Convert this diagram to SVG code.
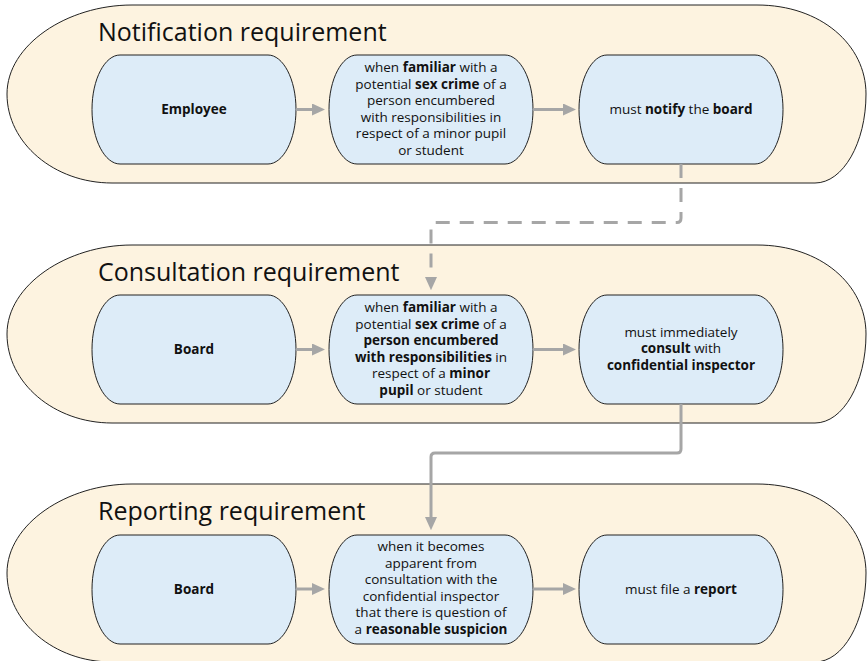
<svg xmlns="http://www.w3.org/2000/svg" width="868" height="661" viewBox="0 0 868 661">
<style>
.cont{fill:#fdf3e0;stroke:#222;stroke-width:1}
.node{fill:#ddecf8;stroke:#222;stroke-width:1}
.title{font-family:"Open Sans","Noto Sans",sans-serif;font-size:25px;fill:#111}
.t{font-family:"Open Sans","Noto Sans",sans-serif;font-size:13.5px;fill:#111;text-anchor:middle}
.b{font-weight:bold}
.conn{fill:none;stroke:#a6a6a6;stroke-width:3;stroke-linejoin:round}
.dash{stroke-dasharray:14 10}
</style>
<defs>
<marker id="ah" markerWidth="4.4" markerHeight="4" refX="0" refY="2" orient="auto" markerUnits="strokeWidth">
<path d="M0,0 L4.4,2 L0,4 Z" fill="#a6a6a6"/>
</marker>
<path id="contShape" d="M125,0 L750,0 C814,0 859,40 859,89 C859,138 836,178 808,178 L105,178 C47,178 0,138 0,89 C0,40 60,0 125,0 Z"/>
<path id="nodeShape" d="M28,0 L176,0 C191,0 204,24 204,54.5 C204,85 191,109 176,109 L28,109 C13,109 0,85 0,54.5 C0,24 13,0 28,0 Z"/>
</defs>

<g id="group-notification">
<use href="#contShape" class="cont" x="7" y="5"/>
<text class="title" x="98" y="41">Notification requirement</text>
</g>
<g id="group-consultation">
<use href="#contShape" class="cont" x="7" y="245"/>
<text class="title" x="98" y="281">Consultation requirement</text>
</g>
<g id="group-reporting">
<use href="#contShape" class="cont" x="7" y="484"/>
<text class="title" x="98" y="520">Reporting requirement</text>
</g>

<g id="n1-employee">
<use href="#nodeShape" class="node" x="92" y="55"/>
<text class="t" x="194" y="114"><tspan class="b">Employee</tspan></text>
</g>
<g id="n1-when">
<use href="#nodeShape" class="node" x="329" y="55"/>
<text class="t" x="431" y="72">when <tspan class="b">familiar</tspan> with a</text>
<text class="t" x="431" y="88.6">potential <tspan class="b">sex crime</tspan> of a</text>
<text class="t" x="431" y="105.2">person encumbered</text>
<text class="t" x="431" y="121.8">with responsibilities in</text>
<text class="t" x="431" y="138.4">respect of a minor pupil</text>
<text class="t" x="431" y="155">or student</text>
</g>
<g id="n1-notify">
<use href="#nodeShape" class="node" x="579" y="55"/>
<text class="t" x="681" y="114">must <tspan class="b">notify</tspan> the <tspan class="b">board</tspan></text>
</g>

<g id="n2-board">
<use href="#nodeShape" class="node" x="92" y="295"/>
<text class="t" x="194" y="354"><tspan class="b">Board</tspan></text>
</g>
<g id="n2-when">
<use href="#nodeShape" class="node" x="329" y="295"/>
<text class="t" x="431" y="312">when <tspan class="b">familiar</tspan> with a</text>
<text class="t" x="431" y="328.6">potential <tspan class="b">sex crime</tspan> of a</text>
<text class="t" x="431" y="345.2"><tspan class="b">person encumbered</tspan></text>
<text class="t" x="431" y="361.8"><tspan class="b">with responsibilities</tspan> in</text>
<text class="t" x="431" y="378.4">respect of a <tspan class="b">minor</tspan></text>
<text class="t" x="431" y="395"><tspan class="b">pupil</tspan> or student</text>
</g>
<g id="n2-consult">
<use href="#nodeShape" class="node" x="579" y="295"/>
<text class="t" x="681" y="336.5">must immediately</text>
<text class="t" x="681" y="353.1"><tspan class="b">consult</tspan> with</text>
<text class="t" x="681" y="369.7"><tspan class="b">confidential inspector</tspan></text>
</g>

<g id="n3-board">
<use href="#nodeShape" class="node" x="92" y="535"/>
<text class="t" x="194" y="594"><tspan class="b">Board</tspan></text>
</g>
<g id="n3-when">
<use href="#nodeShape" class="node" x="329" y="535"/>
<text class="t" x="431" y="551">when it becomes</text>
<text class="t" x="431" y="567.6">apparent from</text>
<text class="t" x="431" y="584.2">consultation with the</text>
<text class="t" x="431" y="600.8">confidential inspector</text>
<text class="t" x="431" y="617.4">that there is question of</text>
<text class="t" x="431" y="634">a <tspan class="b">reasonable suspicion</tspan></text>
</g>
<g id="n3-report">
<use href="#nodeShape" class="node" x="579" y="535"/>
<text class="t" x="681" y="593.5">must file a <tspan class="b">report</tspan></text>
</g>

<g id="connectors">
<path class="conn" d="M296,109.5 H312" marker-end="url(#ah)"/>
<path class="conn" d="M533,109.5 H563" marker-end="url(#ah)"/>
<path class="conn" d="M296,349.5 H312" marker-end="url(#ah)"/>
<path class="conn" d="M533,349.5 H563" marker-end="url(#ah)"/>
<path class="conn" d="M296,589 H312" marker-end="url(#ah)"/>
<path class="conn" d="M533,589 H563" marker-end="url(#ah)"/>
<path class="conn dash" d="M681,164 V218 Q681,222.5 677,222.5 H435 Q431,222.5 431,227 V277" marker-end="url(#ah)"/>
<path class="conn" d="M681,404 V449 Q681,453 677,453 H435 Q431,453 431,457 V517" marker-end="url(#ah)"/>
</g>
</svg>
